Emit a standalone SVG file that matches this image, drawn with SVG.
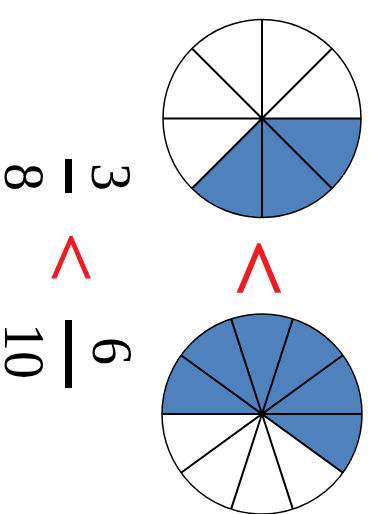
<svg xmlns="http://www.w3.org/2000/svg" width="370" height="514" viewBox="0 0 370 514">
<style>
.sh{fill:#4f81bd;stroke:none}
.ln{stroke:#000;stroke-width:2;fill:none}
.rim{fill:none;stroke:#000;stroke-width:1.5}
.num{font-family:"Liberation Serif","Times New Roman",serif;font-size:56px;fill:#000;text-anchor:middle}
.lt{font-family:"Liberation Serif","Times New Roman",serif;fill:#ee1c24;stroke:#ee1c24;stroke-linejoin:miter;text-anchor:middle}
.bar{fill:#000}
</style>
<rect width="370" height="514" fill="#fff"/>
<g id="pie8">
<path class="sh" d="M262,118.5 L361,118.5 A99,99 0 0 1 192,188.5 Z"/>
<path class="ln" d="M163,118.5 L361,118.5 M262,19.5 L262,217.5 M192,48.5 L332,188.5 M192,188.5 L332,48.5"/>
<circle class="rim" cx="262" cy="118.5" r="99"/>
</g>
<g id="pie10">
<path class="sh" d="M262,414 L162,414 A100,100 0 1 1 342.9,472.8 Z"/>
<path class="ln" d="M162,414 L362,414 M181.1,355.2 L342.9,472.8 M231.1,318.9 L292.9,509.1 M292.9,318.9 L231.1,509.1 M342.9,355.2 L181.1,472.8"/>
<circle class="rim" cx="262" cy="414" r="100"/>
</g>
<g id="lt-pies"><text class="lt" font-size="102" stroke-width="2" transform="translate(230,268) rotate(90) scale(1,0.85)">&lt;</text></g>
<g id="frac38">
<text class="num" transform="translate(92,177) rotate(90)">3</text>
<rect class="bar" x="65" y="159" width="7" height="34"/>
<text class="num" transform="translate(5,177) rotate(90)">8</text>
</g>
<g id="lt-frac"><text class="lt" font-size="89" stroke-width="1.4" transform="translate(45,257) rotate(90) scale(1,0.88)">&lt;</text></g>
<g id="frac610">
<text class="num" transform="translate(93,351) rotate(90)">6</text>
<rect class="bar" x="65" y="320" width="7" height="68"/>
<text class="num" transform="translate(5,351) rotate(90)">10</text>
</g>
</svg>
